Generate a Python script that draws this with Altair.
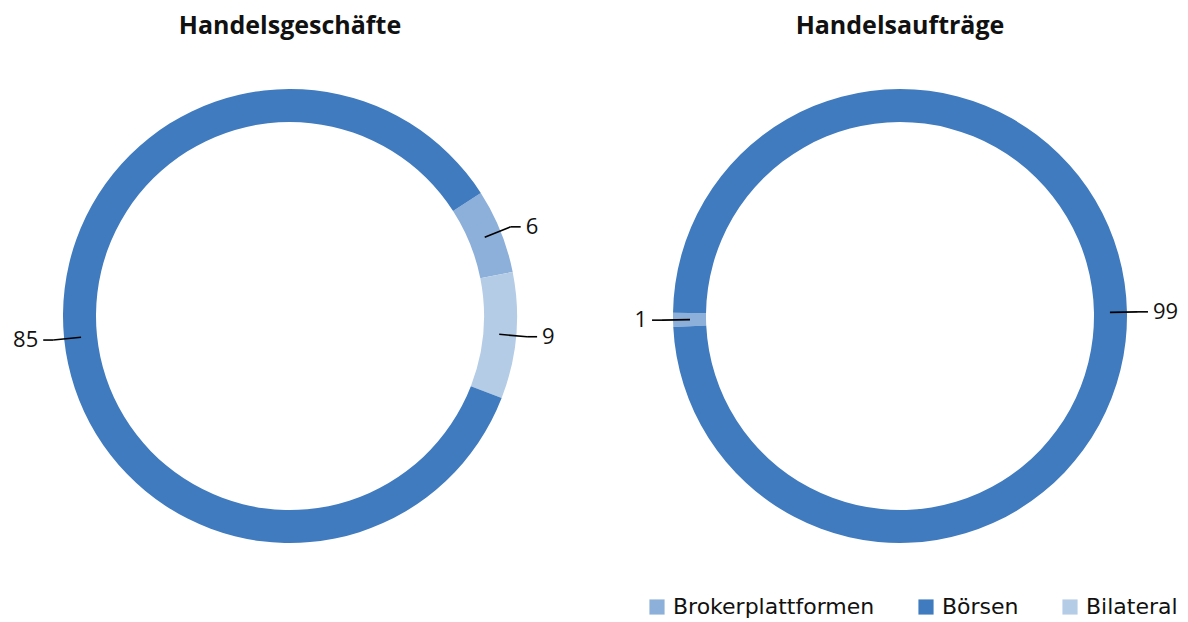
import math
import altair as alt
import pandas as pd

# Clockwise drawing order of the ring segments
categories = ["Brokerplattformen", "Bilateral", "Börsen"]
handelsgeschaefte = [6, 9, 85]
handelsauftraege = [1, 0, 99]

# Legend order and colours
legend_order = ["Brokerplattformen", "Börsen", "Bilateral"]
legend_colors = ["#8DB0DA", "#3F7BBE", "#B4CCE6"]

titles = ["Handelsgeschäfte", "Handelsaufträge"]

FONT = "Open Sans"
H = 546
R_OUT, R_IN = 227, 194
R1, R2, HOR, GAP = 210, 238, 10, 5


def donut(title, values, start_deg, width):
    s = math.radians(start_deg)
    df = pd.DataFrame({"kategorie": categories, "wert": values,
                       "pos": list(range(len(categories)))})
    base = (
        alt.Chart(df)
        .transform_window(ce="sum(wert)", sort=[alt.SortField("pos")], frame=[None, 0])
        .transform_calculate(
            cs="datum.ce - datum.wert",
            mid="(datum.ce - datum.wert / 2)",
        )
        .transform_calculate(
            a=f"{s} + 2 * PI * datum.mid / 100",
        )
        .transform_calculate(
            side="sin(datum.a) >= 0 ? 1 : -1",
            x1=f"{R1} * sin(datum.a)",
            y1=f"{R1} * cos(datum.a)",
            x2=f"{R2} * sin(datum.a)",
            y2=f"{R2} * cos(datum.a)",
        )
        .transform_calculate(
            x3=f"datum.x2 + datum.side * {HOR}",
            xt=f"datum.x2 + datum.side * {HOR + GAP}",
        )
    )
    theta_scale = alt.Scale(domain=[0, 100], range=[s, s + 2 * math.pi])
    xs = alt.Scale(domain=[-width / 2, width / 2], nice=False, zero=False)
    ys = alt.Scale(domain=[-H / 2, H / 2], nice=False, zero=False)

    ring = base.mark_arc(innerRadius=R_IN, outerRadius=R_OUT, strokeWidth=0).encode(
        theta=alt.Theta("cs:Q", scale=theta_scale, stack=None),
        theta2="ce:Q",
        color=alt.Color(
            "kategorie:N",
            scale=alt.Scale(domain=legend_order, range=legend_colors),
            legend=alt.Legend(
                orient="none", legendX=638, legendY=553, direction="horizontal",
                title=None, symbolType="square", symbolSize=230, symbolStrokeWidth=0,
                labelFontSize=22, labelFont="DejaVu Sans", labelColor="#111111",
                labelLimit=400, columnPadding=40, labelOffset=5,
            ),
        ),
        order=alt.Order("pos:Q"),
    )
    lab = base.transform_filter("datum.wert > 0")
    lead1 = lab.mark_rule(color="#000000", strokeWidth=1.6).encode(
        x=alt.X("x1:Q", scale=xs, axis=None),
        y=alt.Y("y1:Q", scale=ys, axis=None),
        x2="x2:Q",
        y2="y2:Q",
    )
    lead2 = lab.mark_rule(color="#000000", strokeWidth=1.6).encode(
        x=alt.X("x2:Q", scale=xs, axis=None),
        y=alt.Y("y2:Q", scale=ys, axis=None),
        x2="x3:Q",
    )
    txt_r = lab.transform_filter("datum.side > 0").mark_text(
        align="left", baseline="middle", fontSize=22, font=FONT, color="#111111"
    ).encode(
        x=alt.X("xt:Q", scale=xs, axis=None),
        y=alt.Y("y2:Q", scale=ys, axis=None),
        text="wert:Q",
    )
    txt_l = lab.transform_filter("datum.side < 0").mark_text(
        align="right", baseline="middle", fontSize=22, font=FONT, color="#111111"
    ).encode(
        x=alt.X("xt:Q", scale=xs, axis=None),
        y=alt.Y("y2:Q", scale=ys, axis=None),
        text="wert:Q",
    )
    return alt.layer(ring, lead1, lead2, txt_r, txt_l).properties(
        width=width,
        height=H,
        title=alt.TitleParams(title, fontSize=25, font=FONT, fontWeight="bold",
                              anchor="middle", color="#111111"),
    )


left = donut(titles[0], handelsgeschaefte, 57.2, 564)
right = donut(titles[1], handelsauftraege, 267.2, 548)

chart = (
    alt.hconcat(left, right, spacing=54)
    .resolve_scale(theta="independent", x="independent", y="independent")
    .configure(padding={"left": 0, "top": 6, "right": 0, "bottom": 0})
    .configure_view(stroke=None)
)

chart.save("out.html", embed_options={"renderer": "svg", "actions": False})
